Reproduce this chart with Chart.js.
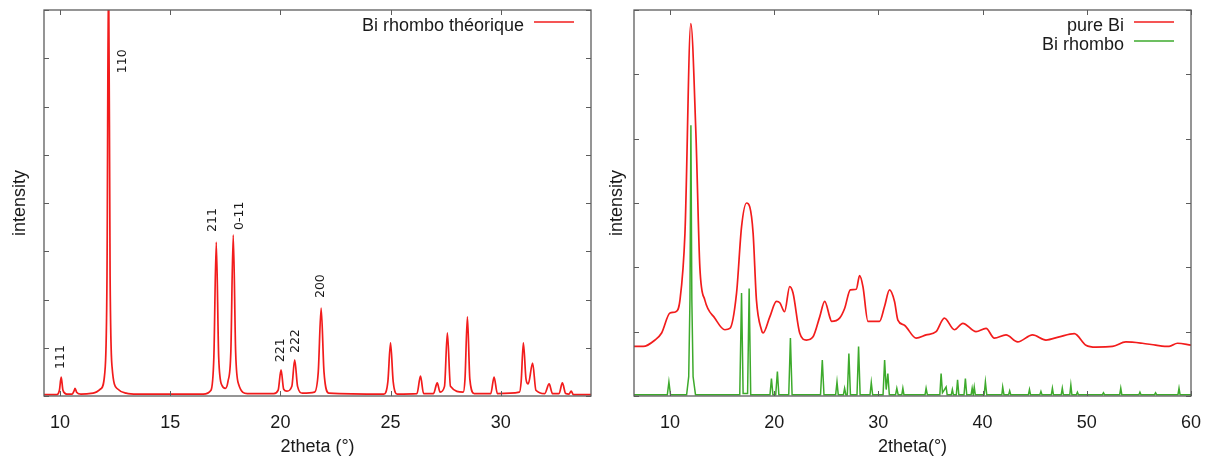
<!DOCTYPE html>
<html>
<head>
<meta charset="utf-8">
<script src="https://cdn.jsdelivr.net/npm/chart.js@4.4.1/dist/chart.umd.min.js"></script>
<style>
body { margin: 0; background: #fff; }
#left { position: absolute; left: 0; top: 0; }
#right { position: absolute; left: 600px; top: 0; }
</style>
</head>
<body>
<canvas id="left" width="600" height="461"></canvas>
<canvas id="right" width="614" height="461"></canvas>
<script>
// ---- left panel : theoretical pattern ----
const theoX = [9.27, 9.85, 9.97, 10.05, 10.13, 10.3, 10.55, 10.63, 10.68, 10.75, 10.95,
  11.5, 11.85, 12.05, 12.13, 12.2, 12.27, 12.36, 12.6, 13.0, 13.5,
  16.5, 16.85, 16.98, 17.09, 17.2, 17.35, 17.5, 17.62, 17.75, 17.86, 17.97, 18.1, 18.5,
  19.7, 19.9, 20.03, 20.15, 20.3, 20.52, 20.65, 20.78, 21.0,
  21.55, 21.72, 21.85, 21.98, 22.2,
  24.7, 24.88, 25.0, 25.12, 25.3,
  26.2, 26.36, 26.5, 26.95, 27.12, 27.25, 27.45, 27.58, 27.72,
  28.3, 28.38, 28.49, 28.6, 28.8, 29.55, 29.7, 29.85,
  30.85, 30.93, 31.03, 31.15, 31.25, 31.45, 31.6, 32.0, 32.2, 32.35,
  32.65, 32.8, 32.95, 33.1, 33.2, 33.3, 34.1];
const theoY = [0.03, 0.03, 0.12, 0.39, 0.12, 0.04, 0.04, 0.1, 0.16, 0.08, 0.04,
  0.06, 0.15, 0.6, 2.5, 9.0, 2.5, 0.6, 0.15, 0.06, 0.04,
  0.04, 0.12, 0.8, 3.19, 0.8, 0.22, 0.16, 0.3, 0.9, 3.34, 0.9, 0.25, 0.05,
  0.05, 0.12, 0.54, 0.14, 0.1, 0.2, 0.75, 0.2, 0.06,
  0.08, 0.5, 1.82, 0.5, 0.06,
  0.04, 0.3, 1.10, 0.3, 0.04,
  0.05, 0.41, 0.05, 0.05, 0.27, 0.08, 0.2, 1.31, 0.2,
  0.08, 0.35, 1.64, 0.35, 0.05, 0.05, 0.39, 0.05,
  0.08, 0.3, 1.10, 0.35, 0.25, 0.68, 0.12, 0.05, 0.25, 0.05,
  0.05, 0.27, 0.05, 0.04, 0.1, 0.03, 0.03];
const leftXTicks = [10, 15, 20, 25, 30];
const leftYTicks = [0, 1, 2, 3, 4, 5, 6, 7, 8];
const peakNames = ['111', '110', '211', '0-11', '221', '222', '200'];
const peakLabelX = [10.05, 12.86, 16.95, 18.14, 20.0, 20.68, 21.85];
const peakLabelY = [0.56, 6.69, 3.40, 3.44, 0.70, 0.89, 2.03];

// ---- right panel : measured pattern vs reference ----
const pureX = [6.55, 7.44, 8.56, 9.2, 10.0, 10.57, 10.96, 11.44, 12.0, 12.49, 12.87, 13.35,
  14.31, 15.27, 15.75, 16.39, 16.87, 17.35, 17.66, 17.98, 18.3, 18.78, 18.94, 19.58,
  20.22, 20.54, 21.0, 21.49, 21.81, 22.45, 23.09, 23.73, 24.37, 24.85, 25.33, 25.49,
  26.28, 26.76, 27.31, 27.88, 28.2, 28.52, 29.0, 30.11, 30.59, 31.07, 31.55, 31.87,
  32.5, 33.63, 34.58, 35.54, 36.33, 37.3, 38.1, 39.37, 40.33, 41.13, 42.25, 43.37,
  44.8, 46.08, 47.36, 48.8, 49.92, 50.88, 52.47, 53.75, 55.33, 56.62, 57.9, 58.7, 60.0];
const pureY = [0.77, 0.77, 0.87, 0.98, 1.29, 1.31, 1.49, 2.53, 5.79, 4.08, 2.0, 1.49,
  1.21, 1.03, 1.05, 1.6, 2.63, 3.0, 2.94, 2.53, 1.49, 1.03, 0.98, 1.23,
  1.47, 1.45, 1.31, 1.70, 1.6, 0.98, 0.87, 0.92, 1.23, 1.47, 1.23, 1.16,
  1.21, 1.36, 1.65, 1.66, 1.87, 1.70, 1.16, 1.16, 1.39, 1.65, 1.47, 1.18,
  1.10, 0.90, 0.95, 1.0, 1.21, 1.03, 1.13, 1.0, 1.05, 0.90, 0.95, 0.84,
  0.95, 0.87, 0.92, 0.97, 0.79, 0.76, 0.77, 0.84, 0.82, 0.79, 0.77, 0.82, 0.79];
const rhomboX = [6.55, 9.75, 9.9, 10.05, 11.6, 11.8, 11.92, 12.01, 12.1, 12.22, 12.45,
  16.7, 16.87, 17.02, 17.45, 17.6, 17.75, 19.6, 19.74, 19.88, 20.15, 20.31, 20.45,
  21.4, 21.56, 21.72, 24.45, 24.62, 24.78, 25.9, 26.03, 26.15, 26.65, 26.76, 26.88,
  27.02, 27.17, 27.32, 27.95, 28.1, 28.25, 29.2, 29.32, 29.45, 30.45, 30.6, 30.75,
  30.91, 31.05, 31.65, 31.77, 31.9, 32.25, 32.35, 32.45, 34.48, 34.58, 34.7,
  35.9, 36.02, 36.15, 36.5, 36.6, 37.0, 37.1, 37.2, 37.48, 37.6, 37.72,
  38.22, 38.35, 38.48, 38.9, 39.0, 39.1, 39.2, 39.3, 40.15, 40.27, 40.4,
  41.85, 41.93, 42.05, 42.5, 42.6, 42.7, 44.4, 44.5, 44.6, 45.5, 45.6, 45.7,
  46.6, 46.7, 46.8, 47.55, 47.65, 47.75, 48.37, 48.47, 48.57, 49.0, 49.1, 49.2,
  51.5, 51.6, 51.7, 53.16, 53.26, 53.36, 55.0, 55.1, 55.2, 56.5, 56.6, 56.7,
  58.75, 58.85, 58.95, 60.0];
const rhomboY = [0.02, 0.02, 0.22, 0.02, 0.02, 0.3, 1.5, 4.21, 1.5, 0.3, 0.02,
  0.02, 1.60, 0.04, 0.04, 1.67, 0.02, 0.02, 0.27, 0.02, 0.02, 0.38, 0.02,
  0.02, 0.90, 0.02, 0.02, 0.56, 0.02, 0.02, 0.22, 0.02, 0.02, 0.12, 0.02,
  0.02, 0.66, 0.02, 0.02, 0.77, 0.02, 0.02, 0.21, 0.02, 0.02, 0.56, 0.1,
  0.35, 0.02, 0.02, 0.12, 0.02, 0.02, 0.12, 0.02, 0.02, 0.12, 0.02,
  0.02, 0.35, 0.05, 0.14, 0.02, 0.02, 0.1, 0.02, 0.02, 0.25, 0.02,
  0.02, 0.27, 0.02, 0.02, 0.12, 0.02, 0.14, 0.02, 0.02, 0.22, 0.02,
  0.02, 0.14, 0.02, 0.02, 0.08, 0.02, 0.02, 0.1, 0.02, 0.02, 0.07, 0.02,
  0.02, 0.12, 0.02, 0.02, 0.12, 0.02, 0.02, 0.17, 0.02, 0.02, 0.06, 0.02,
  0.02, 0.05, 0.02, 0.02, 0.12, 0.02, 0.02, 0.06, 0.02, 0.02, 0.05, 0.02,
  0.02, 0.12, 0.02, 0.02];
const rightXTicks = [10, 20, 30, 40, 50, 60];
const rightYTicks = [0, 1, 2, 3, 4, 5, 6];

const FONT = 'Liberation Sans, Arial, sans-serif';
const INK = '#1a1a1a';
const RED = '#f21c1c';
const GREEN = '#3daa2c';

function zip(xs, ys) {
    return xs.map((x, i) => ({ x: x, y: ys[i] }));
}

// gnuplot style border with inward ticks on every side
const frameTicks = {
    id: 'frameTicks',
    afterDraw(chart) {
        const { ctx, chartArea: a, scales: { x, y } } = chart;
        ctx.save();
        ctx.strokeStyle = '#5c5c5c';
        ctx.lineWidth = 1;
        ctx.beginPath();
        x.ticks.forEach(t => {
            const px = Math.round(x.getPixelForValue(t.value)) + 0.5;
            ctx.moveTo(px, a.bottom); ctx.lineTo(px, a.bottom - 5);
            ctx.moveTo(px, a.top); ctx.lineTo(px, a.top + 5);
        });
        y.ticks.forEach(t => {
            const py = Math.round(y.getPixelForValue(t.value)) + 0.5;
            ctx.moveTo(a.left, py); ctx.lineTo(a.left + 5, py);
            ctx.moveTo(a.right, py); ctx.lineTo(a.right - 5, py);
        });
        ctx.stroke();
        ctx.lineWidth = 1.3;
        ctx.strokeRect(a.left, a.top, a.right - a.left, a.bottom - a.top);
        ctx.restore();
    }
};

// key at top right : text, then a line sample
const lineKey = {
    id: 'lineKey',
    afterDraw(chart) {
        const { ctx, chartArea: a } = chart;
        ctx.save();
        ctx.font = '18px ' + FONT;
        ctx.fillStyle = INK;
        ctx.textAlign = 'right';
        ctx.textBaseline = 'middle';
        chart.data.datasets.forEach((ds, i) => {
            const yy = a.top + 16 + i * 19;
            ctx.fillText(ds.label, a.right - 67, yy);
            ctx.strokeStyle = ds.borderColor;
            ctx.lineWidth = 1.5;
            ctx.beginPath();
            ctx.moveTo(a.right - 57, yy - 4);
            ctx.lineTo(a.right - 17, yy - 4);
            ctx.stroke();
        });
        ctx.restore();
    }
};

// rotated Miller indices above the peaks
const peakTags = {
    id: 'peakTags',
    afterDatasetsDraw(chart, args, opts) {
        if (!opts.names) return;
        const { ctx, scales: { x, y } } = chart;
        ctx.save();
        ctx.font = '12.5px DejaVu Sans, sans-serif';
        ctx.fillStyle = INK;
        ctx.textAlign = 'left';
        ctx.textBaseline = 'middle';
        opts.names.forEach((name, i) => {
            ctx.save();
            ctx.translate(x.getPixelForValue(opts.xs[i]), y.getPixelForValue(opts.ys[i]));
            ctx.rotate(-Math.PI / 2);
            ctx.fillText(name, 0, 0);
            ctx.restore();
        });
        ctx.restore();
    }
};

function makeChart(id, datasets, xMin, xMax, xTicks, yMax, yTicks, yAxisW, padRight, xTitle, yTitlePad, tags) {
    const ctx = document.getElementById(id).getContext('2d');
    return new Chart(ctx, {
        type: 'line',
        data: { datasets: datasets },
        options: {
            responsive: false,
            animation: false,
            layout: { padding: { top: 10, right: padRight, left: 0, bottom: 0 } },
            scales: {
                x: {
                    type: 'linear',
                    min: xMin,
                    max: xMax,
                    afterBuildTicks: s => { s.ticks = xTicks.map(v => ({ value: v })); },
                    afterFit: s => { s.height = 65; },
                    grid: { display: false },
                    border: { display: false },
                    ticks: { color: INK, font: { family: FONT, size: 18 }, padding: 8, maxRotation: 0 },
                    title: {
                        display: true, text: xTitle, color: INK,
                        font: { family: FONT, size: 18 }, padding: { top: 0, bottom: 3 }
                    }
                },
                y: {
                    min: 0,
                    max: yMax,
                    afterBuildTicks: s => { s.ticks = yTicks.map(v => ({ value: v })); },
                    afterFit: s => { s.width = yAxisW; },
                    grid: { display: false },
                    border: { display: false },
                    ticks: { display: false },
                    title: {
                        display: true, text: 'intensity', color: INK,
                        font: { family: FONT, size: 18 }, padding: { top: yTitlePad, bottom: 0 }
                    }
                }
            },
            plugins: {
                legend: { display: false },
                tooltip: { enabled: false },
                peakTags: tags
            }
        },
        plugins: [frameTicks, lineKey, peakTags]
    });
}

makeChart('left', [{
    label: 'Bi rhombo théorique',
    data: zip(theoX, theoY),
    borderColor: RED,
    borderWidth: 1.7,
    pointRadius: 0,
    cubicInterpolationMode: 'monotone'
}], 9.27, 34.1, leftXTicks, 8, leftYTicks, 44, 9, '2theta (°)', 9,
    { names: peakNames, xs: peakLabelX, ys: peakLabelY });

makeChart('right', [{
    label: 'pure Bi',
    data: zip(pureX, pureY),
    borderColor: RED,
    borderWidth: 1.7,
    pointRadius: 0,
    cubicInterpolationMode: 'monotone'
}, {
    label: 'Bi rhombo',
    data: zip(rhomboX, rhomboY),
    borderColor: GREEN,
    borderWidth: 1.5,
    pointRadius: 0
}], 6.55, 60, rightXTicks, 6, rightYTicks, 34, 23, '2theta(°)', 6, {});
</script>
</body>
</html>
